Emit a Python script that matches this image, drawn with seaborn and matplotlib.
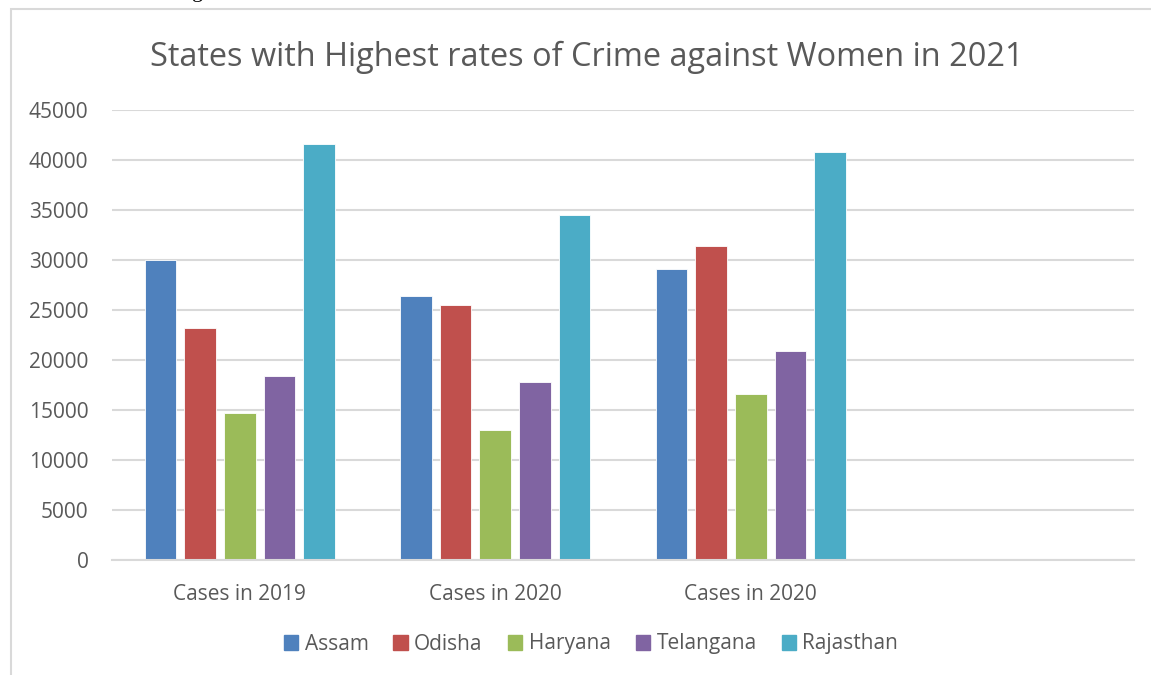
import pandas as pd
import seaborn as sns
import matplotlib.pyplot as plt
from matplotlib.patches import Rectangle

categories = ["Cases in 2019", "Cases in 2020", "Cases in 2020"]
states = ["Assam", "Odisha", "Haryana", "Telangana", "Rajasthan"]

assam = [30000, 26400, 29100]
odisha = [23200, 25500, 31400]
haryana = [14700, 13000, 16600]
telangana = [18400, 17800, 20900]
rajasthan = [41600, 34500, 40800]

y_ticks = [0, 5000, 10000, 15000, 20000, 25000, 30000, 35000, 40000, 45000]

colors = ["#4F81BD", "#C0504D", "#9BBB59", "#8064A2", "#4BACC6"]
text_color = "#595959"
grid_color = "#D9D9D9"

# duplicate category names, so key the bars by slot; slot 3 stays empty
slots = ["s0", "s1", "s2", "s3"]
rows = []
for state, vals in zip(states, [assam, odisha, haryana, telangana, rajasthan]):
    for i, v in enumerate(vals):
        rows.append({"slot": slots[i], "state": state, "cases": v})
df = pd.DataFrame(rows)

sns.set_style("white")
plt.rcParams["font.family"] = ["Open Sans", "DejaVu Sans"]

fig = plt.figure(figsize=(11.51, 6.75), dpi=100)
ax = fig.add_axes([112 / 1151, 115 / 675, 1022 / 1151, 450 / 675])

sns.barplot(
    data=df,
    x="slot",
    y="cases",
    hue="state",
    order=slots,
    hue_order=states,
    palette=colors,
    width=0.775,
    gap=0.2,
    saturation=1,
    edgecolor="white",
    linewidth=0.6,
    ax=ax,
    legend=False,
)

ax.set_xlim(-0.5, 3.5)
ax.set_ylim(0, 45000)
ax.set_yticks(y_ticks)
ax.set_yticklabels([str(t) for t in y_ticks])
ax.set_xticks([0, 1, 2])
ax.set_xticklabels(categories)
ax.set_xlabel("")
ax.set_ylabel("")

ax.grid(axis="y", color=grid_color, linewidth=1.5)
ax.set_axisbelow(True)
for s in ["top", "right", "left"]:
    ax.spines[s].set_visible(False)
ax.spines["bottom"].set_color(grid_color)
ax.spines["bottom"].set_linewidth(1.5)
ax.tick_params(axis="both", length=0, labelsize=15, colors=text_color)
ax.tick_params(axis="y", pad=17)
ax.tick_params(axis="x", pad=17)

fig.text(587 / 1151, 1 - 57 / 675, "States with Highest rates of Crime against Women in 2021",
         ha="center", va="center", fontsize=23.4, color=text_color)

handles = [Rectangle((0, 0), 1, 1, color=c) for c in colors]
fig.legend(handles, states, loc="center", bbox_to_anchor=(591 / 1151, 1 - 644 / 675),
           ncol=5, frameon=False, fontsize=15, labelcolor=text_color,
           handlelength=0.7, handleheight=0.7, handletextpad=0.3, columnspacing=1.2)

# chart frame and the cut-off text line above it
fig.patches.append(Rectangle((11 / 1151, -0.1), 1.2, 1 - 9 / 675 + 0.1, transform=fig.transFigure,
                             fill=False, edgecolor="#D9D9D9", linewidth=1.5))
fig.text(198 / 1151, 1 + 3 / 675, "g", ha="center", va="baseline", fontsize=16,
         family="Liberation Serif", color="black")

fig.savefig("out.png", dpi=100)
